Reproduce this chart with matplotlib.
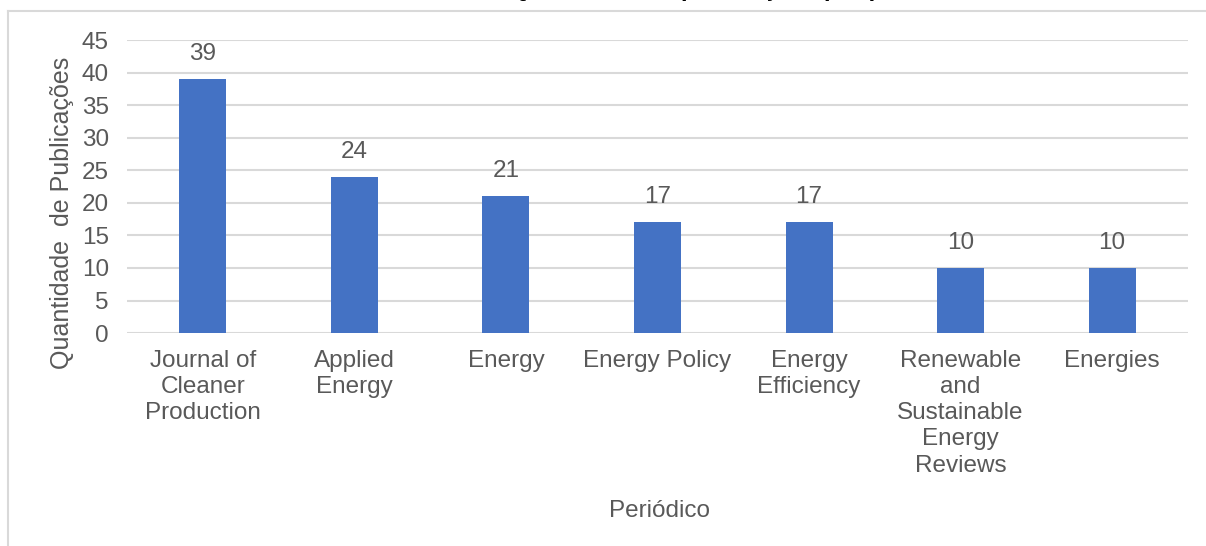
import matplotlib.pyplot as plt
from matplotlib.lines import Line2D

# data
journals = ["Journal of\nCleaner\nProduction", "Applied\nEnergy", "Energy", "Energy Policy",
            "Energy\nEfficiency", "Renewable\nand\nSustainable\nEnergy\nReviews", "Energies"]
publications = [39, 24, 21, 17, 17, 10, 10]
y_ticks = [0, 5, 10, 15, 20, 25, 30, 35, 40, 45]

plt.rcParams['font.family'] = ['Liberation Sans', 'DejaVu Sans']
TEXT = '#595959'
GRID = '#D9D9D9'
FS = 17.5

fig = plt.figure(figsize=(12.06, 5.46), dpi=100)
ax = fig.add_axes([0.1053, 0.390, 0.8797, 0.5367])

x = range(len(journals))
bars = ax.bar(x, publications, width=0.31, color='#4472C4', zorder=3)
ax.bar_label(bars, padding=10, fontsize=FS, color=TEXT)

ax.set_ylim(0, 45)
ax.set_xlim(-0.5, len(journals) - 0.5)
ax.set_yticks(y_ticks)
ax.set_xticks(list(x))
ax.set_xticklabels(journals, linespacing=1.25)
ax.tick_params(axis='both', length=0, labelsize=FS, labelcolor=TEXT)
ax.tick_params(axis='x', pad=12)
ax.tick_params(axis='y', pad=13)
ax.grid(axis='y', color=GRID, linewidth=1.5, zorder=0)
for s in ax.spines.values():
    s.set_visible(False)

ax.set_ylabel('Quantidade  de Publicações', fontsize=18, color=TEXT)
ax.yaxis.set_label_coords(-0.050, 0.41)
ax.set_xlabel('Periódico', fontsize=FS, color=TEXT)
ax.xaxis.set_label_coords(0.502, -0.568)

# chart frame (only left and top edges visible)
fig.add_artist(Line2D([8 / 1206, 8 / 1206], [0, 1 - 11 / 546], color=GRID, linewidth=1.5))
fig.add_artist(Line2D([8 / 1206, 1], [1 - 11 / 546, 1 - 11 / 546], color=GRID, linewidth=1.5))

# title is cut off at the top of the image, only descenders show
fig.text(975 / 1206, 1 + 4.0 / 546, 'Quantidade de publicações por periódico',
         ha='right', va='baseline', fontsize=17, fontweight='bold', color='black')

plt.savefig('out.png', dpi=100)
